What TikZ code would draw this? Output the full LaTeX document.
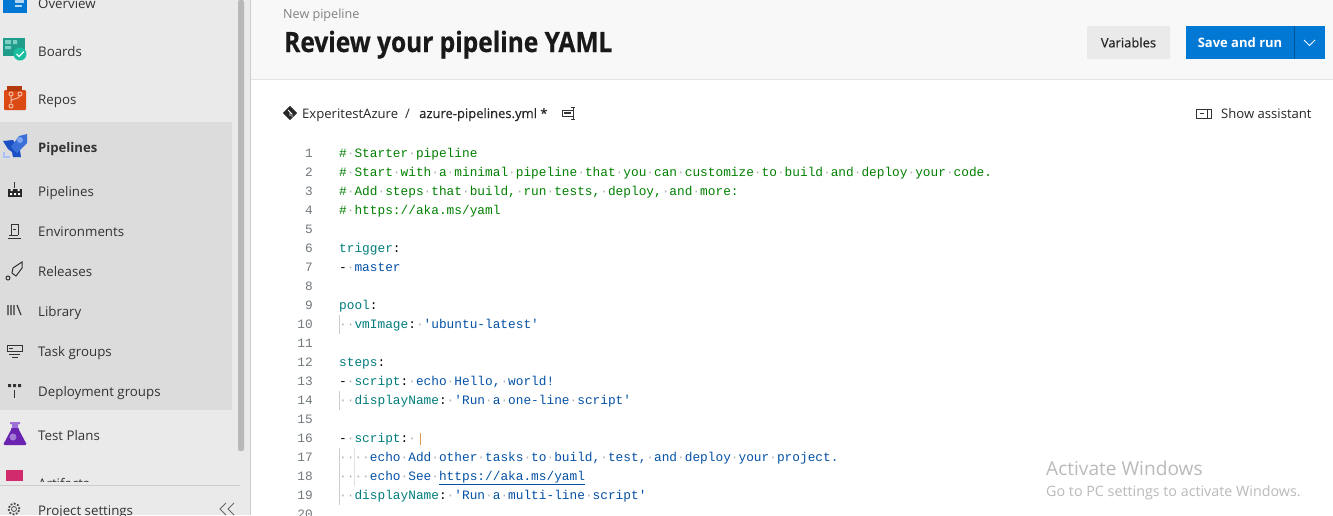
\documentclass[tikz,border=0pt]{standalone}
\usepackage{fontspec}
\setmainfont{Open Sans}
\newfontfamily\codefont{Liberation Mono}
\newfontfamily\titlefont[FakeStretch=0.875,FakeBold=0.5]{Open Sans}
\newfontfamily\semifont[FakeBold=0.3]{Open Sans}
\definecolor{navbg}{HTML}{EAEAEA}
\definecolor{navsel}{HTML}{DCDCDC}
\definecolor{thumb}{HTML}{B8B8B8}
\definecolor{headbg}{HTML}{F8F8F8}
\definecolor{rulecol}{HTML}{E4E4E4}
\definecolor{azure}{HTML}{0078D4}
\definecolor{cmt}{HTML}{008000}
\definecolor{key}{HTML}{007C7C}
\definecolor{val}{HTML}{0451A5}
\definecolor{wsp}{HTML}{B4B4B4}
\definecolor{lineno}{HTML}{72797C}
\definecolor{winmark}{HTML}{BABABA}
\definecolor{artpink}{HTML}{D12B6E}
\definecolor{boardgreen}{HTML}{1F9C8C}
\definecolor{boardcell}{HTML}{7FD0C4}
\definecolor{boardchk}{HTML}{19BFA0}
\definecolor{repored}{HTML}{DC4A14}
\definecolor{repodark}{HTML}{B33A0D}
\definecolor{repoline}{HTML}{F5B9A0}
\definecolor{pipemid}{HTML}{3B6FD8}
\definecolor{pipelight}{HTML}{7FA5F0}
\definecolor{pipedark}{HTML}{1B4FC4}
\definecolor{pipepale}{HTML}{A9C1F4}
\definecolor{testmid}{HTML}{7B3FB8}
\definecolor{testtop}{HTML}{9F6FD8}
\definecolor{testdark}{HTML}{6A22B0}
\definecolor{testpale}{HTML}{A57BD8}
\definecolor{caretcol}{HTML}{D99A4E}
\newcommand{\ws}{\textcolor{wsp}{·}}
\newcommand{\ck}[1]{\textcolor{key}{#1}}
\newcommand{\cv}[1]{\textcolor{val}{#1}}
\newcommand{\cc}[1]{\textcolor{cmt}{#1}}
\tikzset{
  navtext/.style={anchor=base west, inner sep=0pt, font=\fontsize{13.3}{15}\selectfont, text=black!80},
  codeline/.style={anchor=base west, inner sep=0pt, font=\codefont\fontsize{12.8}{15}\selectfont},
  numline/.style={anchor=base east, inner sep=0pt, font=\codefont\fontsize{12.8}{15}\selectfont, text=lineno},
  plain/.style={anchor=base west, inner sep=0pt, font=\fontsize{13.1}{15}\selectfont, text=black!85},
  guide/.style={draw=black!20, line width=0.8pt},
  iconline/.style={draw=black!80, line width=1pt},
}
\begin{document}
\begin{tikzpicture}[x=1pt,y=-1pt]
\useasboundingbox (0,0) rectangle (1333,515);
% backgrounds
\fill[white] (0,0) rectangle (1333,515);
\fill[navbg] (0,0) rectangle (250,515);
\fill[navsel] (0,122) rectangle (232,410);
\draw[black!20] (250.5,0) -- (250.5,515);
\fill[thumb, rounded corners=2pt] (238,0) rectangle (244,451);
\fill[headbg] (251,0) rectangle (1333,79);
\draw[rulecol, line width=1pt] (251,79.5) -- (1333,79.5);
\draw[black!20] (0,485) -- (240,485);

% sidebar
\foreach \name/\ypos/\txt in {nava/8/Overview, navb/56/Boards, navc/104/Repos, navd/196/Pipelines,
    nave/236/Environments, navf/276/Releases, navg/316/Library, navh/356/Task groups,
    navi/396/Deployment groups, navj/440/Test Plans}
  \node[navtext] (\name) at (38,\ypos) {\txt};
\node[navtext, font=\fontsize{13.1}{15}\selectfont\bfseries] (navsec) at (38,152) {Pipelines};
\begin{scope}
  \clip (0,470) rectangle (240,481);
  \node[navtext] (navk) at (38,488) {Artifacts};
  \fill[artpink] (6,470) rectangle (23,481);
\end{scope}
\node[navtext] (navl) at (38,515) {Project settings};

% big icons
\fill[azure] (3,0) rectangle (27,13);
\fill[white!70!azure] (15,0) rectangle (24,3);
\fill[white!70!azure] (15,5) rectangle (22,7);
\fill[boardgreen] (3,38) rectangle (25,56);
\fill[boardcell] (5,40) rectangle (11,44) (13,40) rectangle (17,44) (5,46) rectangle (11,49);
\node[circle, fill=boardchk, minimum size=13pt, inner sep=0pt] (chk) at (20,54) {};
\draw[white, line width=1.3pt] (16.5,54) -- (19,56.5) -- (24,51.5);
\fill[repored, rounded corners=1pt] (4,90) rectangle (26,110);
\fill[repodark] (7,86) rectangle (22,91);
\draw[repoline, line width=1pt] (11,95) -- (11,103) (20,95) .. controls (20,100) and (11,98) .. (11,101);
\foreach \cx/\cy in {11/94, 20/94, 11/106} \draw[repoline, line width=1pt] (\cx,\cy) circle (2pt);
\fill[pipedark] (3,141) -- (13,140) -- (20,150) -- (21,157) -- (13,157) -- (12,152) -- (8,149) -- cycle;
\fill[pipemid] (11,147) -- (19,136) -- (27,134) -- (27,143) -- (17,153) -- cycle;
\fill[pipelight] (20,140) circle (3pt);
\draw[pipepale, line width=1.5pt] (4,152) -- (4,157) -- (10,157);
\fill[testmid] (11,428) rectangle (19,436);
\fill[testtop] (10,422) rectangle (20,424) (12,424) rectangle (18,429);
\fill[testdark, rounded corners=1.5pt] (12,428) -- (18,428) -- (27,445) -- (3,445) -- cycle;
\fill[testpale] (13,437) circle (3.5pt);

% small icons
\draw[iconline] (14,182) -- (14,188);
\fill[black!85] (8,189) rectangle (22,197);
\fill[white] (10,193) rectangle (12,195) (14,193) rectangle (16,195) (18,193) rectangle (20,195) (10.5,189) rectangle (12.5,191) (17.5,189) rectangle (19.5,191);
\draw[iconline] (9,235) -- (18,235) (11,235) -- (11,224) -- (18,224) -- (18,235) (13,229) -- (16,229) (8,238) -- (21,238);
\draw[iconline] (8,278) circle (2pt) (12,273) -- (13,268) -- (22,262) -- (22,268) -- (16,276) -- cycle;
\draw[iconline, line width=1.2pt] (8,305) -- (8,315) (11,305) -- (11,315) (14,305) -- (14,315) (17,305) -- (21,315);
\draw[iconline] (7,345) rectangle (22,351) (9,354) -- (20,354) (12,357) -- (18,357);
\fill[black!80] (9,348) rectangle (13,349);
\fill[black!80] (8,384) rectangle (11,387) (13,384) rectangle (16,387) (18,384) rectangle (21,387);
\draw[iconline] (14,398) -- (14,390);
\draw[black!70, line width=1.8pt, dash pattern=on 1.8pt off 1.6pt] (14,509) circle (5.5pt);
\draw[black!70, line width=0.8pt] (14,509) circle (2.5pt);
\draw[black!60, line width=0.9pt] (226,503) -- (220,509) -- (226,515) (234,503) -- (228,509) -- (234,515);

% header
\node[anchor=base west, inner sep=0pt, font=\fontsize{12.6}{15}\selectfont, text=black!50] (crumb) at (283,18) {New pipeline};
\node[anchor=base west, inner sep=0pt, font=\titlefont\fontsize{28}{30}\selectfont\bfseries, text=black!90] (title) at (284,52) {Review your pipeline YAML};
\node[fill=navbg, minimum width=83pt, minimum height=33pt, inner sep=0pt, rounded corners=1pt, font=\semifont\fontsize{13}{15}\selectfont, text=black!85] (varbtn) at (1128.5,42.5) {Variables};
\node[fill=azure, minimum width=108pt, minimum height=33pt, inner sep=0pt, font=\fontsize{13}{15}\selectfont\bfseries, text=white] (savebtn) at (1240,42.5) {Save and run};
\node[fill=azure, minimum width=31pt, minimum height=33pt, inner sep=0pt] (morebtn) at (1309.5,42.5) {};
\draw[black!30!azure] (savebtn.north east) -- (savebtn.south east);
\draw[white, line width=1pt] (morebtn.center) ++(-5.5,-2.5) -- ++(5.5,5.5) -- ++(5.5,-5.5);

% file bar
\fill[black!85, rotate around={45:(290,113)}] (285,108) rectangle (295,118);
\draw[white, line width=0.8pt] (288,110) -- (292,114) -- (292,117) (290,112) -- (290,116);
\node[plain] (repo) at (302,118) {ExperitestAzure};
\node[plain] (sep) at (405,118) {/};
\node[plain, font=\semifont\fontsize{13}{15}\selectfont] (file) at (419,118) {azure-pipelines.yml *};
\draw[black!80, line width=1pt] (562,110) rectangle (573,116) (573,107.5) -- (573,119) (571,107.5) -- (575,107.5) (571,119) -- (575,119);
\fill[black!80] (564,112) rectangle (571,114);
\draw[black!80, line width=1pt] (1196.5,109) rectangle (1211,118) (1207,109) -- (1207,118) (1204,113.5) -- (1199.5,113.5);
\node[plain] (assist) at (1221,118) {Show assistant};

% line numbers
\foreach \n in {1,...,20} {
  \pgfmathsetmacro{\ybase}{157+(\n-1)*19}
  \node[numline] (num\n) at (313,\ybase) {\n};
}

% editor
\draw[guide] (339.5,315) -- (339.5,334) (339.5,391) -- (339.5,410) (339.5,448) -- (339.5,505);
\draw[guide, draw=black!12] (354.5,448) -- (354.5,486);
\node[codeline] (l1) at (339,157) {\cc{\#\ws Starter\ws pipeline}};
\node[codeline] (l2) at (339,176) {\cc{\#\ws Start\ws with\ws a\ws minimal\ws pipeline\ws that\ws you\ws can\ws customize\ws to\ws build\ws and\ws deploy\ws your\ws code.}};
\node[codeline] (l3) at (339,195) {\cc{\#\ws Add\ws steps\ws that\ws build,\ws run\ws tests,\ws deploy,\ws and\ws more:}};
\node[codeline] (l4) at (339,214) {\cc{\#\ws https://aka.ms/yaml}};
\node[codeline] (l6) at (339,252) {\ck{trigger}:};
\node[codeline] (l7) at (339,271) {-\ws\cv{master}};
\node[codeline] (l9) at (339,309) {\ck{pool}:};
\node[codeline] (l10) at (339,328) {\ws\ws\ck{vmImage}:\ws\cv{'ubuntu-latest'}};
\node[codeline] (l12) at (339,366) {\ck{steps}:};
\node[codeline] (l13) at (339,385) {-\ws\ck{script}:\ws\cv{echo\ws Hello,\ws world!}};
\node[codeline] (l14) at (339,404) {\ws\ws\ck{displayName}:\ws\cv{'Run\ws a\ws one-line\ws script'}};
\node[codeline] (l16) at (339,442) {-\ws\ck{script}:\ws};
\node[codeline] (l17) at (339,461) {\ws\ws\ws\ws\cv{echo\ws Add\ws other\ws tasks\ws to\ws build,\ws test,\ws and\ws deploy\ws your\ws project.}};
\node[codeline] (l18) at (339,480) {\ws\ws\ws\ws\cv{echo\ws See\ws https://aka.ms/yaml}};
\node[codeline] (l19) at (339,499) {\ws\ws\ck{displayName}:\ws\cv{'Run\ws a\ws multi-line\ws script'}};
\draw[caretcol, line width=1pt] (420,433) -- (420,445);
\draw[val, line width=1pt] (439,484.5) -- (585,484.5);

% watermark
\node[anchor=base west, inner sep=0pt, font=\fontsize{19.1}{21}\selectfont, text=winmark] (winone) at (1046,475) {Activate Windows};
\node[anchor=base west, inner sep=0pt, font=\fontsize{14.3}{16}\selectfont, text=winmark] (wintwo) at (1046,496) {Go to PC settings to activate Windows.};
\end{tikzpicture}
\end{document}
